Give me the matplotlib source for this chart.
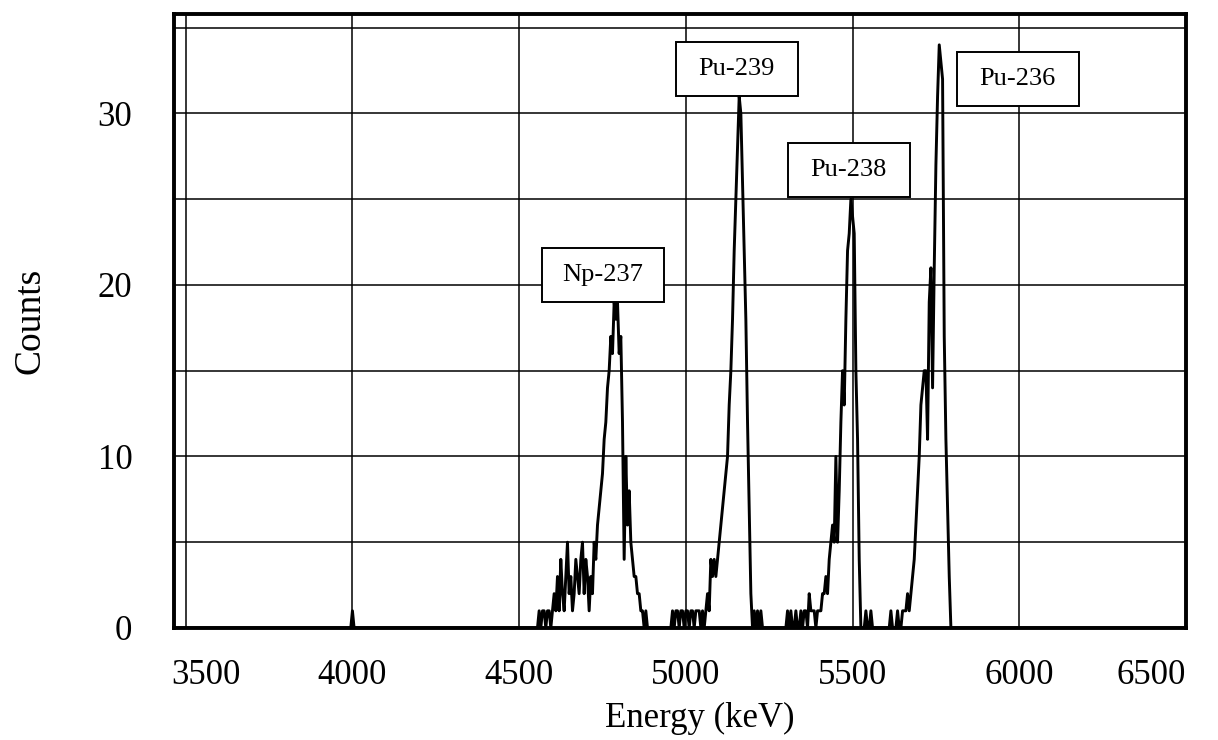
import numpy as np
import matplotlib
matplotlib.use("Agg")
import matplotlib.pyplot as plt
import matplotlib.transforms as mtransforms
from matplotlib.patches import Rectangle

# channel width of the spectrum (keV)
CH = 5

# counts per channel, each region starts at the given energy (keV)
blip_start = 3995
blip_counts = [0, 1, 0]

np237_start = 4555
np237_counts = [0, 1, 0, 1, 1, 0, 1, 1, 0, 1, 2, 1, 3, 1, 4, 2, 1, 3, 5, 2,
                3, 1, 2, 4, 3, 2, 4, 5, 2, 4, 3, 1, 3, 2, 5, 4, 6, 7, 8, 9,
                11, 12, 14, 15, 17, 16, 19, 18, 19, 16, 17, 12, 4, 10, 6, 8, 5, 4, 3, 3,
                2, 2, 1, 1, 0, 1, 0]

pu239_start = 4955
pu239_counts = [0, 1, 0, 1, 1, 0, 1, 1, 0, 1, 1, 0, 1, 1, 0, 1, 1, 1, 0, 1, 0,
                1, 2, 1, 4, 3, 4, 3, 4, 5, 6, 7, 8, 9, 10, 13, 15, 18, 22, 25, 28,
                31, 30, 26, 22, 18, 12, 7, 2, 0, 1, 0, 1, 0, 1, 0]

pu238_start = 5300
pu238_counts = [0, 1, 0, 1, 0, 0, 1, 0, 0, 1, 0, 1, 1, 0, 2, 1, 1, 1, 0, 1,
                1, 1, 2, 2, 3, 2, 4, 5, 6, 5, 10, 5, 8, 12, 15, 13, 18, 22, 23, 25,
                24, 23, 15, 11, 4, 0, 0, 0, 1, 0, 0, 1, 0]

pu236_start = 5600
pu236_counts = [0, 0, 0, 1, 0, 0, 0, 1, 0, 0, 1, 1, 1, 2, 1, 2, 3, 4, 6, 8,
                10, 13, 14, 15, 15, 11, 19, 21, 14, 21, 27, 31, 34, 33, 32, 17, 11, 7, 3, 0, 0]

x_ticks = [3500, 4000, 4500, 5000, 5500, 6000, 6500]
y_ticks = [0, 10, 20, 30]

peak_names = ["Np-237", "Pu-239", "Pu-238", "Pu-236"]
label_energy = [4751, 5152, 5488, 5995]
label_counts = [20.6, 32.6, 26.7, 32.0]

plt.rcParams['font.family'] = ['Liberation Serif', 'DejaVu Serif']

fig = plt.figure(figsize=(12.18, 7.40), dpi=100)
ax = fig.add_axes([0.1429, 0.1514, 0.8308, 0.8297])

# build full spectrum: zeros between regions
energy = [3465]
counts = [0]
for start, cts in [(blip_start, blip_counts), (np237_start, np237_counts),
                   (pu239_start, pu239_counts), (pu238_start, pu238_counts),
                   (pu236_start, pu236_counts)]:
    energy += list(start + CH * np.arange(len(cts)))
    counts += cts
energy.append(6500)
counts.append(0)

ax.plot(energy, counts, color='black', lw=2.1, zorder=3)

ax.set_xlim(3465, 6500)
ax.set_ylim(0, 35.8)
for xv in x_ticks[:-1]:
    ax.axvline(xv, color='black', lw=1.1, zorder=1)
for yv in range(5, 36, 5):
    ax.axhline(yv, color='black', lw=1.1, zorder=1)

ax.set_xticks(x_ticks)
ax.set_yticks(y_ticks)
ax.tick_params(axis='x', length=0, pad=22, labelsize=25)
ax.tick_params(axis='y', length=0, pad=30, labelsize=25)
for sp in ax.spines.values():
    sp.set_linewidth(2.8)

# first and last x labels sit inside the frame ends like in the scan
xlabels = ax.get_xticklabels()
shift = mtransforms.ScaledTranslation(20 / 100, 0, fig.dpi_scale_trans)
xlabels[0].set_transform(xlabels[0].get_transform() + shift)
xlabels[-1].set_horizontalalignment('right')

ax.set_xlabel("Energy (keV)", fontsize=25)
ax.xaxis.set_label_coords(0.52, -0.12)
ax.set_ylabel("Counts", fontsize=27, labelpad=36)

# label boxes
box_w = 366
box_h = 3.15
for name, ex, cy in zip(peak_names, label_energy, label_counts):
    ax.add_patch(Rectangle((ex - box_w / 2, cy - box_h / 2), box_w, box_h,
                           facecolor='white', edgecolor='black', lw=1.4, zorder=4))
    ax.text(ex, cy, name, ha='center', va='center', fontsize=19, zorder=5)

fig.savefig("out.png", dpi=100)
